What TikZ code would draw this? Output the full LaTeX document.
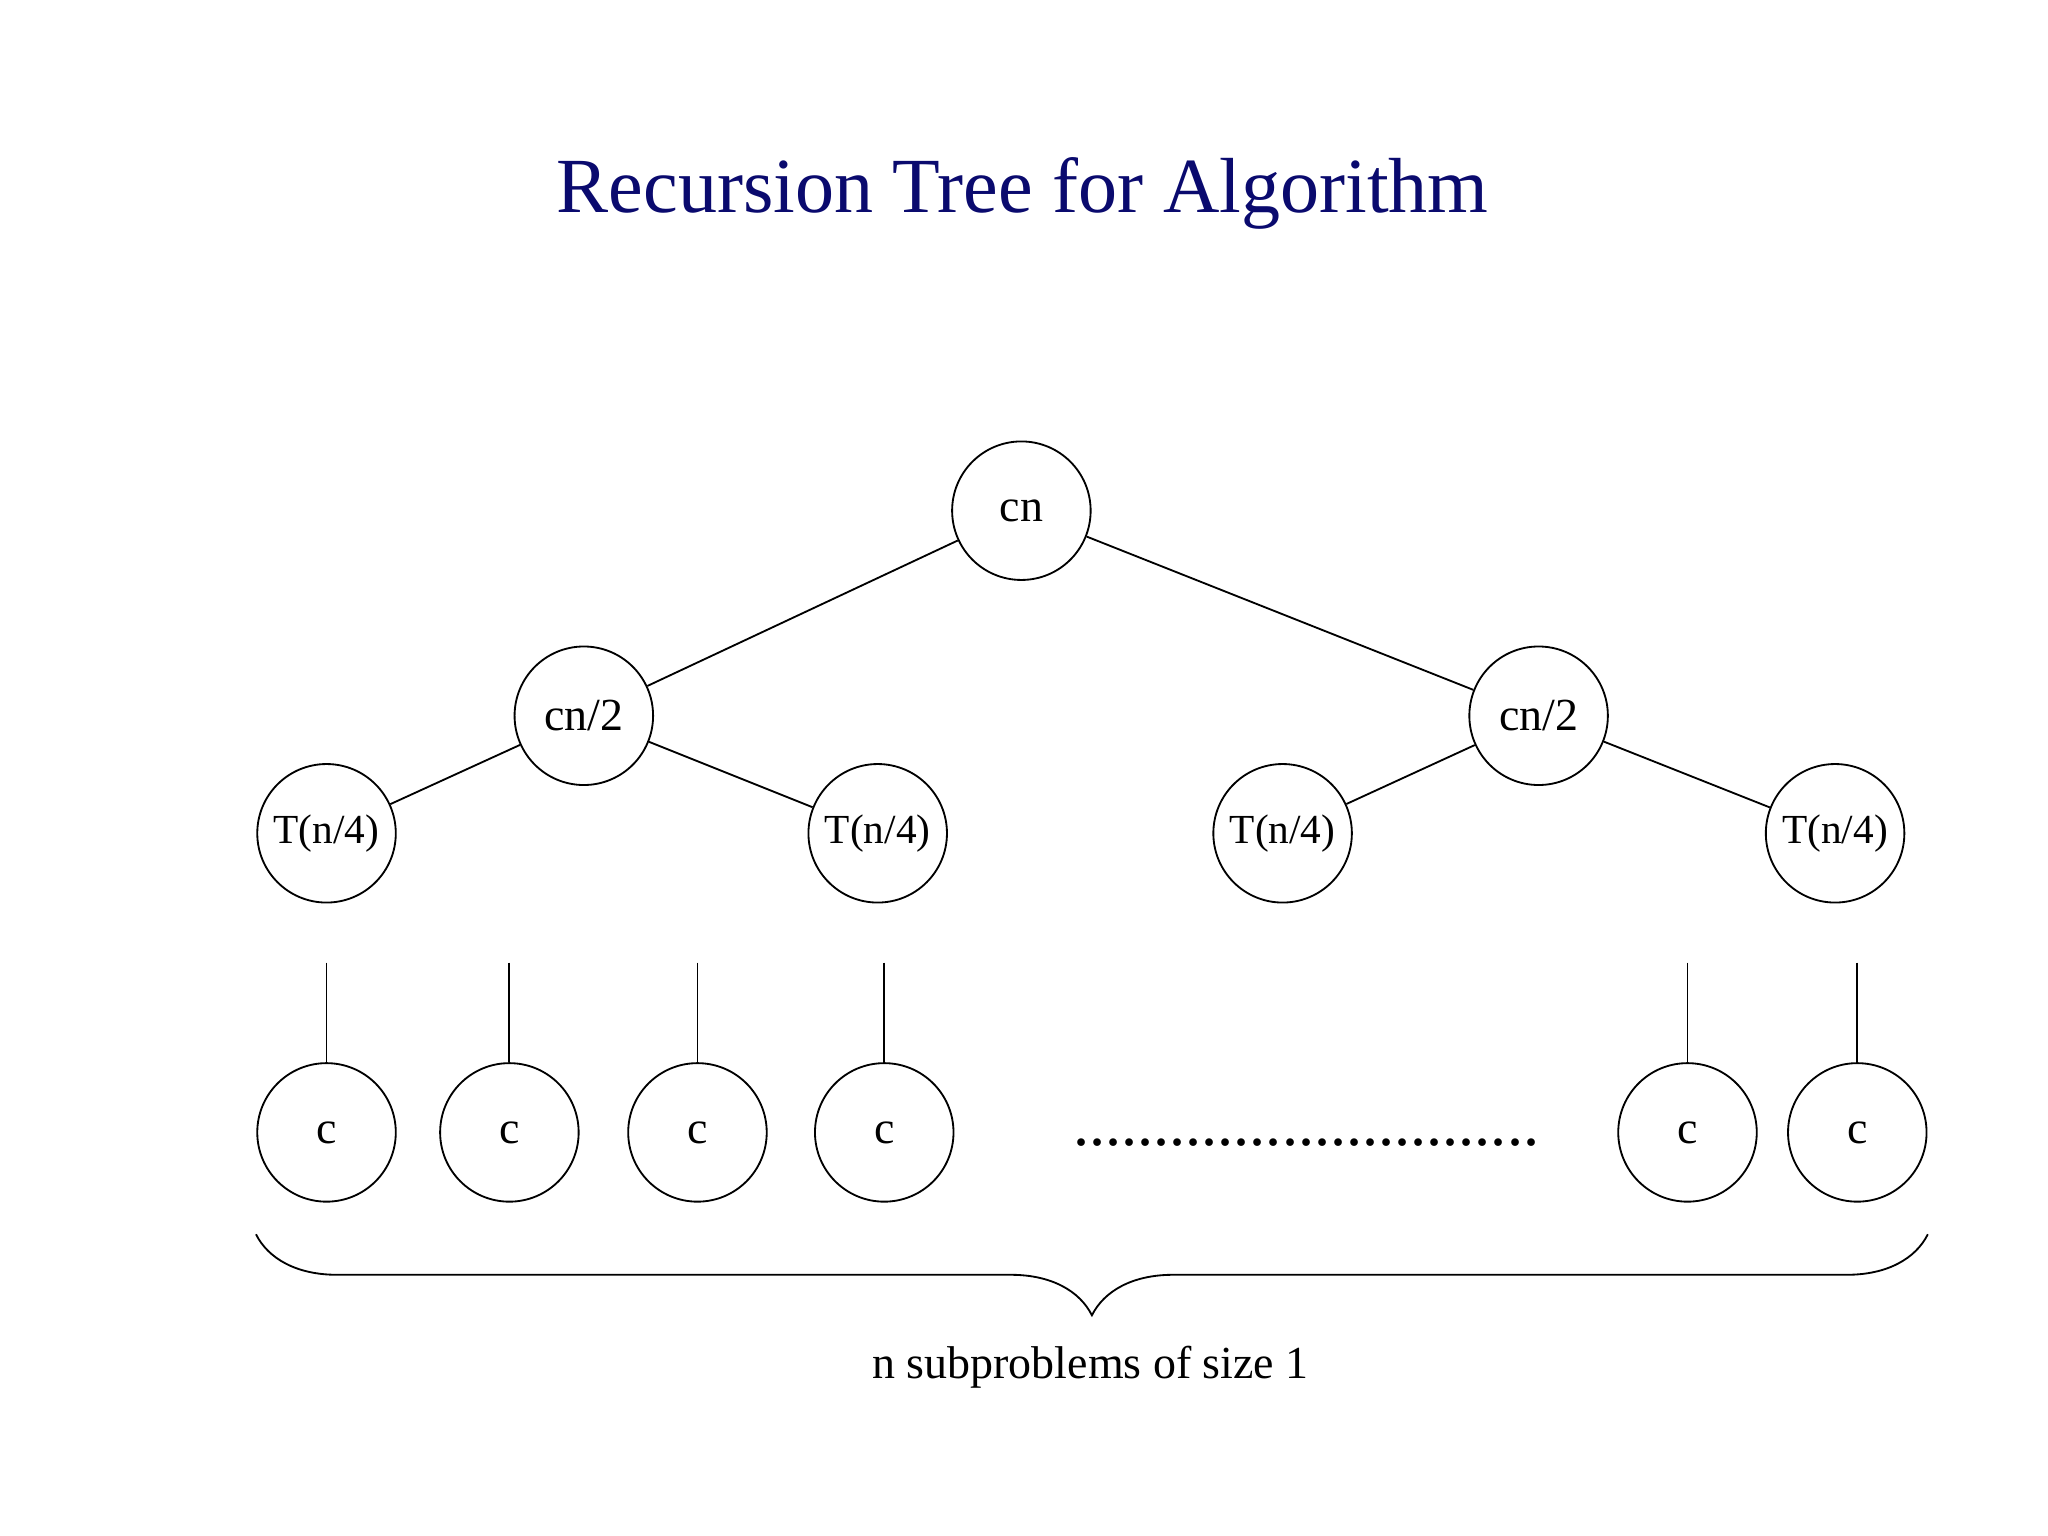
\documentclass[tikz,border=0pt]{standalone}
\usepackage{fontspec}
\setmainfont{Liberation Serif}
\usetikzlibrary{positioning,decorations.pathreplacing}
\definecolor{titleblue}{RGB}{10,10,110}

\begin{document}
\begin{tikzpicture}[x=0.01cm,y=-0.01cm,
    node/.style={circle, draw, minimum size=1.06cm, inner sep=0pt, font=\fontsize{10}{12}\selectfont},
    small/.style={node, font=\fontsize{9}{11}\selectfont}]
    \useasboundingbox (0,0) rectangle (1568,1176);
    \node[text=titleblue, font=\fontsize{17}{20}\selectfont] (title) at (783,148) {Recursion Tree for Algorithm};

    \node[node] (r) at (782,391) {cn};
    \node[node] (a) at (447,548) {cn/2};
    \node[node] (b) at (1178,548) {cn/2};
    \node[small] (a1) at (250,638) {T(n/4)};
    \node[small] (a2) at (672,638) {T(n/4)};
    \node[small] (b1) at (982,638) {T(n/4)};
    \node[small] (b2) at (1405,638) {T(n/4)};

    \path[draw]
    (r) -- (a)
    (r) -- (b)
    (a) -- (a1)
    (a) -- (a2)
    (b) -- (b1)
    (b) -- (b2);

    % leaves
    \foreach \name/\x in {c1/250, c2/390, c3/534, c4/677, c5/1292, c6/1422} {
        \node[node] (\name) at (\x,867) {c};
        \coordinate (\name top) at (\x,737);
        \draw (\name top) -- (\name);
    }

    \node[font=\fontsize{14}{16}\selectfont] (dots) at (1000,875) {.............................};

    \coordinate (bl) at (196,945);
    \coordinate (br) at (1476,945);
    \draw[decorate, decoration={brace, mirror, amplitude=0.62cm}] (bl) -- (br);
    \node[font=\fontsize{10}{12}\selectfont] (lbl) at (835,1047) {n subproblems of size 1};
\end{tikzpicture}
\end{document}
